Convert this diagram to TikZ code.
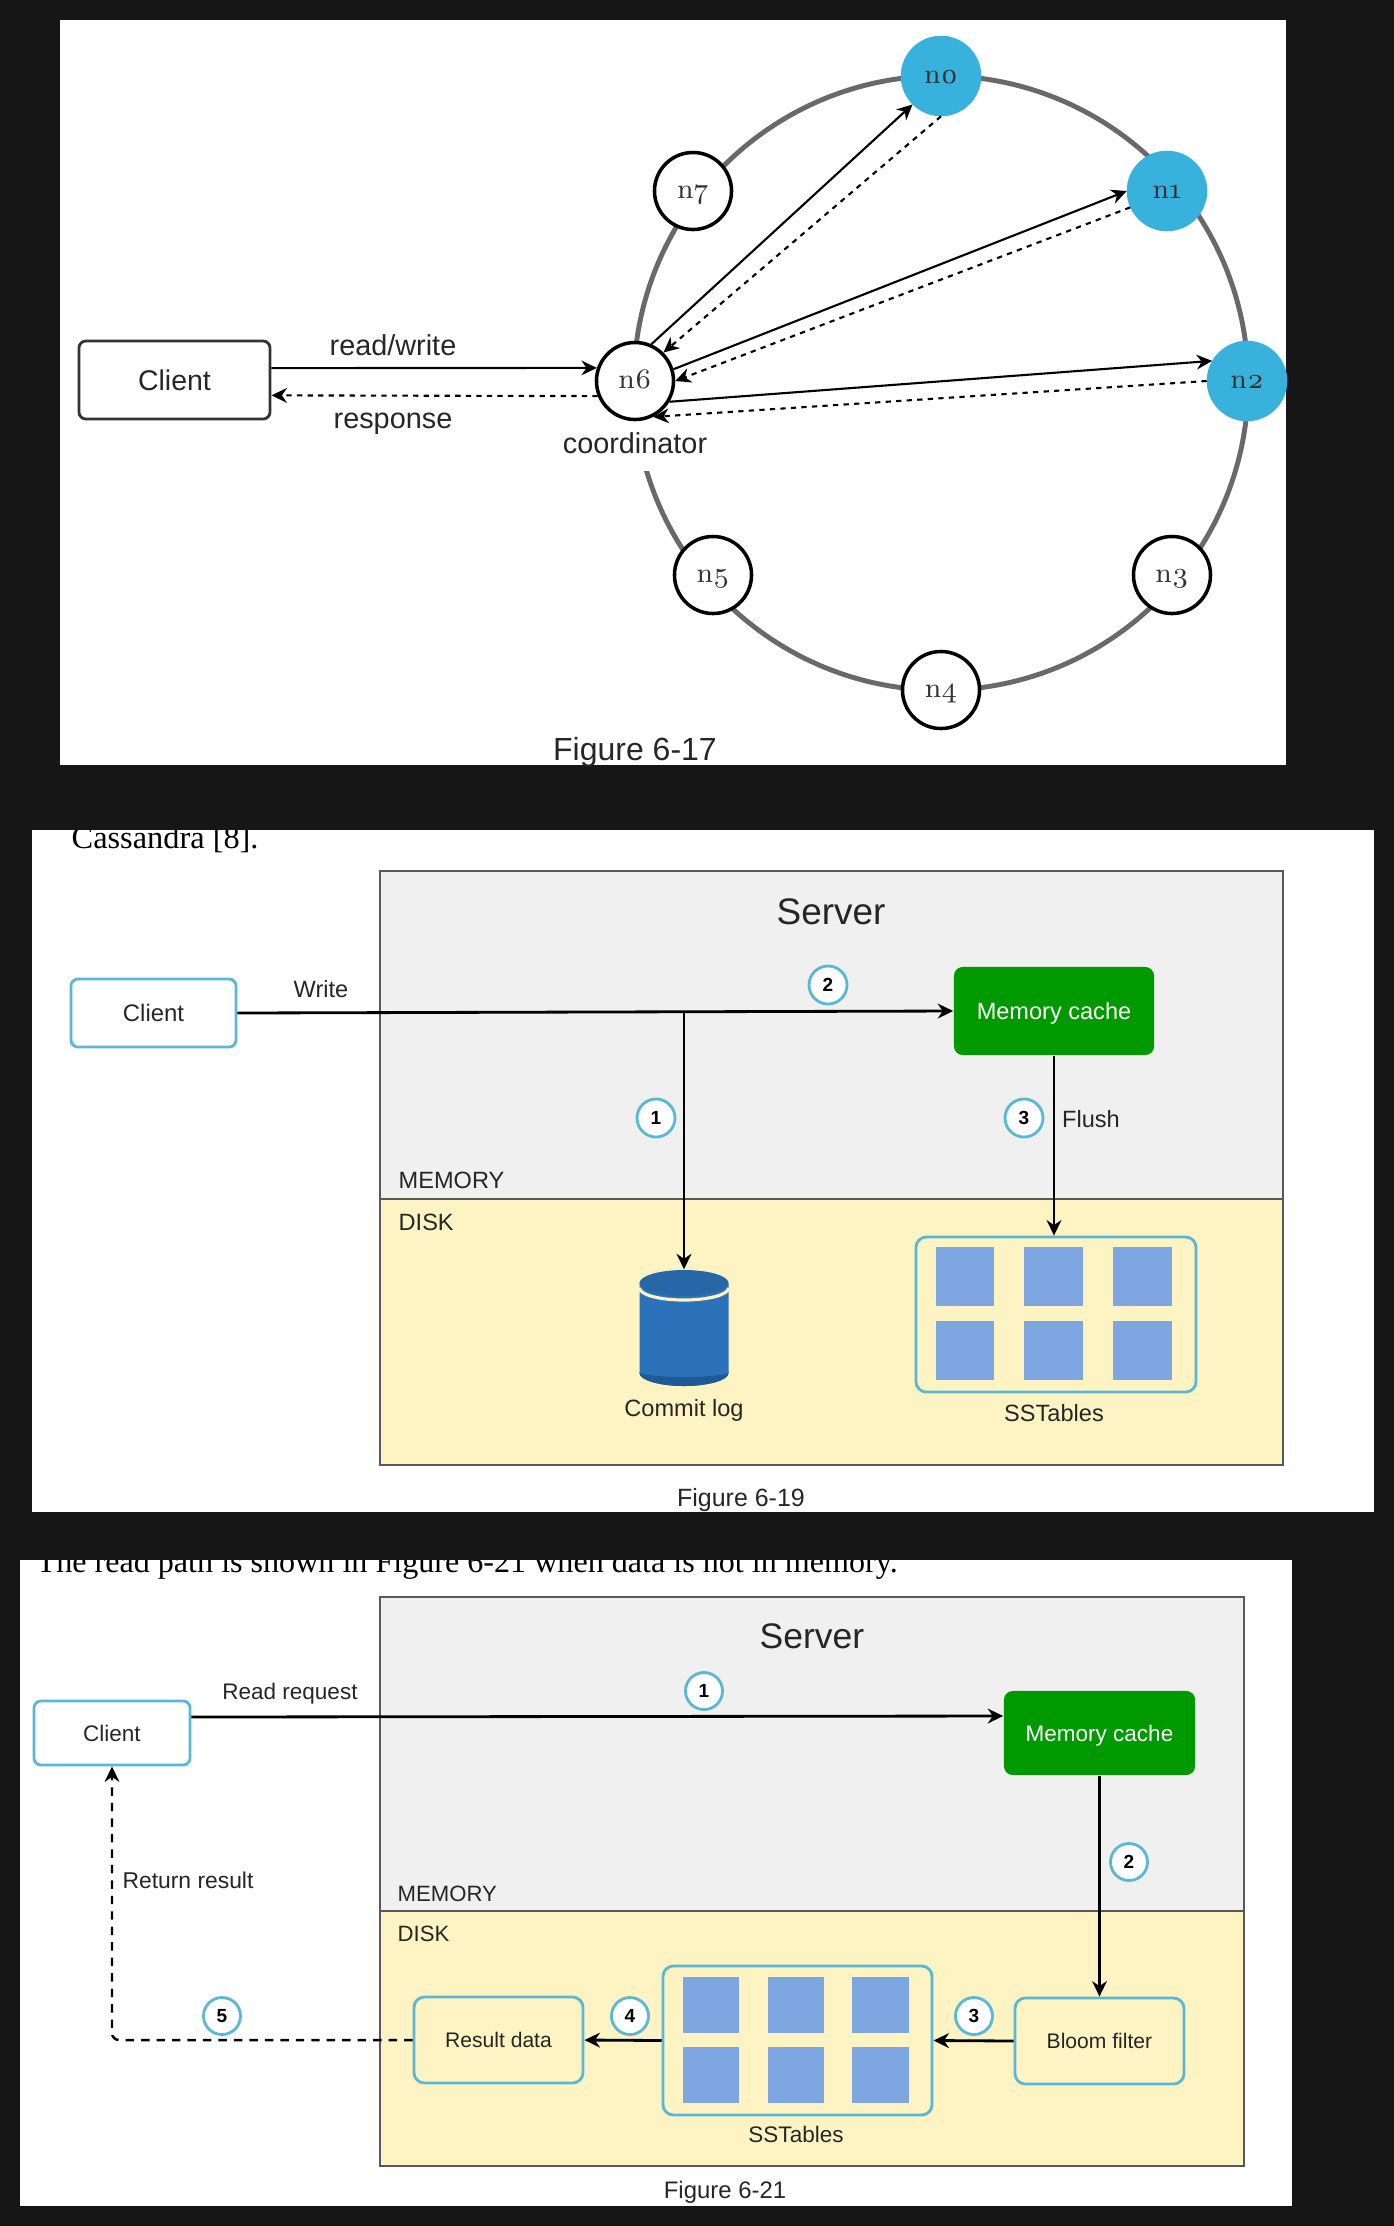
\documentclass[tikz,border=0pt]{standalone}
\usepackage{fontspec}
\usepackage{xcolor}
\setmainfont{Liberation Sans}
\newfontfamily\ringfont[Numbers=OldStyle]{Latin Modern Roman}
\newfontfamily\bookfont{Liberation Serif}
\usetikzlibrary{positioning,arrows.meta,calc}
\definecolor{pageDark}{RGB}{22,22,22}
\definecolor{ringCyan}{RGB}{56,178,220}
\definecolor{ringGray}{RGB}{105,105,105}
\definecolor{memGray}{RGB}{240,240,240}
\definecolor{diskCream}{RGB}{253,243,195}
\definecolor{cacheGreen}{RGB}{0,153,0}
\definecolor{boxTeal}{RGB}{90,184,214}
\definecolor{cellBlue}{RGB}{126,166,224}
\definecolor{canBlue}{RGB}{44,114,186}
\definecolor{canDark}{RGB}{32,90,150}
\tikzset{
  sans/.style={font=\fontsize{#1}{#1}\selectfont, inner sep=0pt, text=black!85},
  ringNode/.style={circle, draw=black, line width=1pt, fill=white, minimum size=.77cm, inner sep=0pt, text height=4pt, text depth=0pt, text=black!80, font=\ringfont\fontsize{8}{10}\selectfont},
  ringHit/.style={ringNode, draw=ringCyan, fill=ringCyan},
  hop/.style={-{Stealth[length=4.4pt,width=4.2pt]}, line width=.6pt},
  hopBack/.style={hop, dash pattern=on 1.5pt off 1.5pt},
  clientBox/.style={rectangle, rounded corners=2pt, draw=boxTeal, line width=.8pt, fill=white, inner sep=0pt, text=black!85},
  cacheBox/.style={rectangle, rounded corners=2.5pt, fill=cacheGreen, text=white, text depth=0pt, inner sep=0pt},
  stageBox/.style={rectangle, rounded corners=3pt, draw=boxTeal, line width=.8pt, fill=diskCream, inner sep=0pt, text=black!85},
  badge/.style={circle, draw=boxTeal, line width=.8pt, fill=white, minimum size=.38cm, inner sep=0pt, font=\bfseries\fontsize{5.4}{6}\selectfont},
  cell/.style={rectangle, fill=cellBlue, inner sep=0pt}
}
\begin{document}
\begin{tikzpicture}[x=.01cm, y=-.01cm]
    \useasboundingbox (0,0) rectangle (1394,2226);
    \fill[pageDark] (0,0) rectangle (1394,2226);

    \fill[white] (60,20) rectangle (1286,765);
    \draw[ringGray, line width=1.4pt] (941,383) circle [radius=3.07cm];
    \node[sans=8.2, fill=white, inner ysep=5pt, inner xsep=2pt] (coordinatorTag) at (635,443) {coordinator};
    \node[ringHit] (n0) at (941,76) {n0};
    \node[ringHit] (n1) at (1167,191) {n1};
    \node[ringHit] (n2) at (1247,381) {n2};
    \node[ringNode] (n3) at (1172,575) {n3};
    \node[ringNode] (n4) at (941,690) {n4};
    \node[ringNode] (n5) at (713,575) {n5};
    \node[ringNode] (n6) at (635,381) {n6};
    \node[ringNode] (n7) at (693,191) {n7};
    \node[clientBox, draw=black!80, minimum width=1.91cm, minimum height=.78cm, font=\fontsize{8.1}{10}\selectfont] (client17) at (174.5,380) {Client};
    \node[sans=8.2] (readTag) at (393,345) {read/write};
    \node[sans=8.2] (responseTag) at (393,424) {response};
    \node[sans=9.1] (figA) at (635,752) {Figure 6-17};
    \draw[hop] (client17.7.2) -- (n6.161);
    \draw[hopBack] (n6.202) -- (client17.-9.5);
    \draw[hop] (n6.66) -- (n0.225);
    \draw[hopBack] (n0.270) -- (n6.45);
    \draw[hop] (n6.17) -- (n1.180);
    \draw[hopBack] (n1.204) -- (n6.0);
    \draw[hop] (n6.-31) -- (n2.150);
    \draw[hopBack] (n2.180) -- (n6.-63);

    \fill[white] (32,815) rectangle (1374,1512);
    \node[font=\bookfont\fontsize{9.2}{11}\selectfont, anchor=west, inner sep=0pt] (textB) at (71,839) {Cassandra [8].};
    \fill[pageDark] (0,790) rectangle (1394,830);
    \filldraw[fill=memGray, draw=black!65, line width=.5pt] (380,871) rectangle (1283,1199);
    \filldraw[fill=diskCream, draw=black!65, line width=.5pt] (380,1199) rectangle (1283,1465);
    \node[sans=10.5] (serverB) at (831,912) {Server};
    \node[sans=6.7, anchor=west] (memB) at (398,1180) {MEMORY};
    \node[sans=6.7, anchor=west] (diskB) at (398,1222) {DISK};
    \node[clientBox, minimum width=1.65cm, minimum height=.68cm, font=\fontsize{6.8}{8}\selectfont] (client19) at (153.5,1013) {Client};
    \node[sans=6.7] (writeTag) at (321,989) {Write};
    \node[cacheBox, minimum width=2cm, minimum height=.88cm, font=\fontsize{6.7}{8}\selectfont] (cache19) at (1054,1011) {Memory cache};
    \node[stageBox, minimum width=2.8cm, minimum height=1.55cm] (stage19) at (1056,1314.5) {};
    \foreach \cx/\cy/\cname in {965/1276.5/a,1053.5/1276.5/b,1142.5/1276.5/c,965/1350.5/d,1053.5/1350.5/e,1142.5/1350.5/f}
      \node[cell, minimum width=.58cm, minimum height=.59cm] (cellB\cname) at (\cx,\cy) {};
    \node[minimum width=.89cm, minimum height=1.16cm, inner sep=0pt] (commitCan) at (684,1328) {};
    \fill[canBlue] (639.5,1283) -- (639.5,1373) arc[start angle=180, end angle=360, x radius=.445cm, y radius=.13cm] -- (728.5,1283) -- cycle;
    \fill[canDark] (639.5,1372) arc[start angle=180, end angle=360, x radius=.445cm, y radius=.05cm] -- (728.5,1373) arc[start angle=360, end angle=180, x radius=.445cm, y radius=.13cm] -- cycle;
    \draw[diskCream, line width=.9pt] (639.5,1288) arc[start angle=180, end angle=360, x radius=.445cm, y radius=.12cm];
    \fill[canBlue!90!black] (684,1283) ellipse [x radius=.445cm, y radius=.13cm];
    \node[sans=6.7] (commitTag) at (684,1410) {Commit log};
    \node[sans=6.7] (tablesB) at (1054,1413) {SSTables};
    \node[sans=7.1] (figB) at (741,1500) {Figure 6-19};
    \coordinate (logSplit) at (684,1012);
    \draw[hop, line width=.8pt] (client19.east) -- (cache19.west);
    \draw[hop] (logSplit) -- (commitCan.north);
    \draw[hop] (cache19.south) -- (stage19.north -| cache19.south);
    \node[badge] (badgeB1) at (656,1118) {1};
    \node[badge] (badgeB2) at (828,985) {2};
    \node[badge] (badgeB3) at (1024,1118) {3};
    \node[sans=6.7] (flushTag) at (1091,1119) {Flush};

    \fill[white] (20,1545) rectangle (1292,2206);
    \node[font=\bookfont\fontsize{9.13}{11}\selectfont, anchor=west, inner sep=0pt] (textC) at (36,1565) {The read path is shown in Figure 6-21 when data is not in memory.};
    \fill[pageDark] (0,1512) rectangle (1394,1560);
    \filldraw[fill=memGray, draw=black!65, line width=.5pt] (380,1597) rectangle (1244,1911);
    \filldraw[fill=diskCream, draw=black!65, line width=.5pt] (380,1911) rectangle (1244,2166);
    \node[sans=10.1] (serverC) at (812,1636) {Server};
    \node[sans=6.3, anchor=west] (memC) at (397,1894) {MEMORY};
    \node[sans=6.3, anchor=west] (diskC) at (397,1934) {DISK};
    \node[clientBox, minimum width=1.56cm, minimum height=.64cm, font=\fontsize{6.4}{8}\selectfont] (client21) at (112,1733) {Client};
    \node[sans=6.4] (readTag21) at (290,1694) {Read request};
    \node[sans=6.5] (returnTag) at (188,1880) {Return result};
    \node[cacheBox, minimum width=1.91cm, minimum height=.84cm, font=\fontsize{6.4}{8}\selectfont] (cache21) at (1099.5,1733) {Memory cache};
    \node[stageBox, minimum width=1.69cm, minimum height=.86cm, font=\fontsize{6}{7}\selectfont] (bloom) at (1099.5,2041) {Bloom filter};
    \node[stageBox, minimum width=2.69cm, minimum height=1.49cm] (stage21) at (797.5,2040.5) {};
    \node[stageBox, minimum width=1.69cm, minimum height=.86cm, font=\fontsize{6}{7}\selectfont] (resultData) at (498.5,2040) {Result data};
    \foreach \cx/\cy/\cname in {711/2004.5/a,796/2004.5/b,880.5/2004.5/c,711/2075/d,796/2075/e,880.5/2075/f}
      \node[cell, minimum width=.56cm, minimum height=.56cm] (cellC\cname) at (\cx,\cy) {};
    \node[sans=6.4] (tablesC) at (796,2134) {SSTables};
    \node[sans=6.8] (figC) at (725,2192) {Figure 6-21};
    \draw[hop, line width=.8pt] ($(client21.east)+(0,-16)$) -- ($(cache21.west)+(0,-17)$);
    \draw[hop] (cache21.south) -- (bloom.north);
    \draw[hop, line width=.8pt] (bloom.west) -- (stage21.east);
    \draw[hop, line width=.8pt] (stage21.west) -- (resultData.east);
    \draw[hop, dash pattern=on 2.4pt off 2pt, line width=.7pt, rounded corners=2pt] (resultData.west) -| (client21.south);
    \node[badge, minimum size=.37cm] (badgeC1) at (704,1691) {1};
    \node[badge, minimum size=.37cm] (badgeC2) at (1129,1862) {2};
    \node[badge, minimum size=.37cm] (badgeC3) at (974,2016) {3};
    \node[badge, minimum size=.37cm] (badgeC4) at (630,2016) {4};
    \node[badge, minimum size=.37cm] (badgeC5) at (222,2016) {5};
  \end{tikzpicture}
\end{document}
